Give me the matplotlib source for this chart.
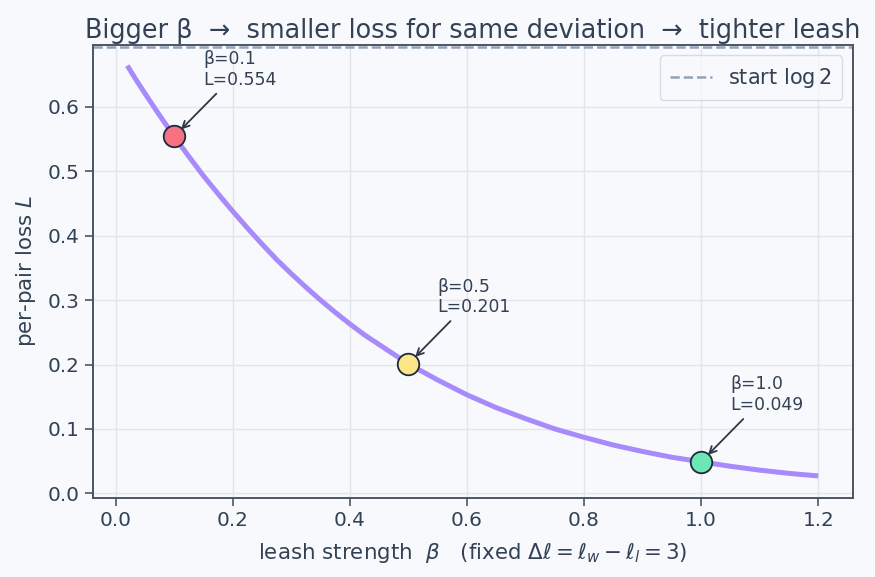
import matplotlib.pyplot as plt

# loss curve (beta, per-pair loss)
beta = [0.02, 0.035, 0.05, 0.075, 0.10, 0.125, 0.15, 0.175, 0.20, 0.225, 0.25, 0.275,
        0.30, 0.325, 0.35, 0.375, 0.40, 0.425, 0.45, 0.475, 0.50, 0.55,
        0.60, 0.65, 0.70, 0.75, 0.80, 0.85, 0.90, 0.95, 1.00, 1.05, 1.10, 1.15, 1.20]
loss = [0.664, 0.642, 0.621, 0.587, 0.554, 0.523, 0.493, 0.465, 0.438, 0.412, 0.387, 0.363,
        0.341, 0.320, 0.300, 0.281, 0.263, 0.246, 0.231, 0.216, 0.201, 0.176,
        0.153, 0.133, 0.116, 0.100, 0.087, 0.075, 0.065, 0.056, 0.049, 0.042, 0.036, 0.031, 0.027]

# highlighted points
pt_beta = [0.1, 0.5, 1.0]
pt_loss = [0.554, 0.201, 0.049]
pt_colors = ["#f87183", "#fde68a", "#6ee7b7"]

start_loss = 0.6931  # log 2

txt = "#334155"
bg = "#f8f9fc"

plt.rcParams['font.family'] = ['DejaVu Sans']
fig = plt.figure(figsize=(8.75, 5.77), dpi=100, facecolor=bg)
ax = fig.add_axes([0.106, 0.1374, 0.8686, 0.7846])
ax.set_facecolor(bg)

ax.plot(beta, loss, color="#a78bfa", lw=3.6, zorder=2, solid_capstyle="butt")
ax.axhline(start_loss, color="#94a3b8", ls="--", lw=1.8, label=r"start $\log 2$", zorder=1)

for b, l, c in zip(pt_beta, pt_loss, pt_colors):
    ax.plot(b, l, "o", ms=15.5, mfc=c, mec="#1f2937", mew=1.3, zorder=4)
    ax.annotate(f"β={b:.1f}\nL={l:.3f}", xy=(b, l), xytext=(b + 0.05, l + 0.08),
                fontsize=12.4, color=txt, ha="left",
                arrowprops=dict(arrowstyle="->", color="#2d3748", lw=1.3, shrinkB=7),
                zorder=5)

ax.set_xlim(-0.039, 1.259)
ax.set_ylim(-0.0068, 0.696)
ax.grid(True, color="#e2e5ea", lw=1.0)
ax.set_axisbelow(True)
for s in ax.spines.values():
    s.set_color("#4b5563")
    s.set_linewidth(1.4)
ax.tick_params(colors="#4b5563", labelcolor=txt, labelsize=14.4, length=6, width=1.2)

ax.set_xlabel(r"leash strength  $\beta$   (fixed $\Delta\ell = \ell_w - \ell_l = 3$)",
              fontsize=15.4, color=txt, labelpad=8)
ax.set_ylabel(r"per-pair loss $L$", fontsize=15.4, color=txt, labelpad=7)
ax.set_title("Bigger β  →  smaller loss for same deviation  →  tighter leash",
             fontsize=18.4, color=txt, pad=5)
leg = ax.legend(loc="upper right", fontsize=15, facecolor=bg, edgecolor="#cbd5e1",
                labelcolor=txt, borderpad=0.5)

fig.savefig("out.png", dpi=100, facecolor=bg)
